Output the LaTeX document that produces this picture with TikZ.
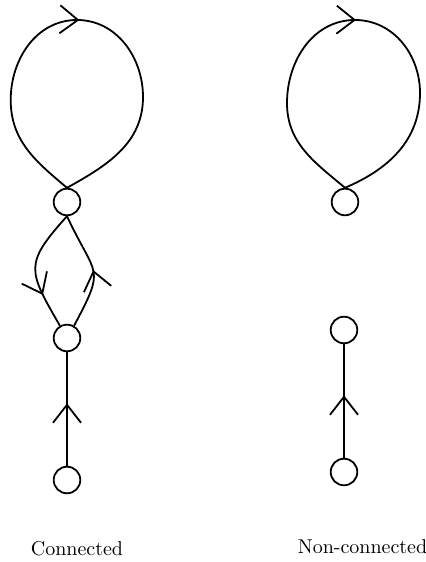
\documentclass[tikz,border=0pt]{standalone}
\usetikzlibrary{arrows.meta,decorations.markings}
\definecolor{ink}{HTML}{000000}
\tikzset{
  vertex/.style={circle,draw=ink,line width=.9pt,minimum size=13.3pt,inner sep=0pt},
  edgeline/.style={draw=ink,line width=.9pt},
  midtip/.style={postaction={decorate},decoration={markings,
    mark=at position #1 with {\arrow[ink,line width=.9pt]{Straight Barb[length=9pt,width=14pt]}}}},
  caption/.style={font=\normalsize,text=ink,anchor=base}
}

\begin{document}
\begin{tikzpicture}[x=.5pt,y=.5pt]
  \useasboundingbox (0,0) rectangle (426,562);
  % Connected graph: three vertices in one column.
  \node[vertex] (ctop) at (67,360) {};
  \node[vertex] (cmid) at (67,224) {};
  \node[vertex] (cbot) at (67,82) {};
  % Self-loop on the top vertex, arrow at its apex.
  \draw[edgeline,midtip=.49] (ctop.north) to[out=140,in=270] (10.7,462)
    to[out=90,in=180] (77,542) to[out=0,in=90] (143,465)
    to[out=270,in=29] (ctop.north);
  % Two opposite edges between the top and middle vertex.
  \draw[edgeline,midtip=.72] (ctop.south) to[out=228,in=120,looseness=1.5] (cmid.120);
  \draw[edgeline,midtip=.5] (cmid.60) to[out=62,in=295,looseness=1.6] (ctop.south);
  \draw[edgeline,midtip=.55] (cbot) -- (cmid);
  \node[caption] (clabel) at (77,6) {Connected};

  % Non-connected graph: loop on top, a separate edge below.
  \node[vertex] (ntop) at (345,360) {};
  \node[vertex] (nmid) at (344,232) {};
  \node[vertex] (nbot) at (344,90) {};
  \draw[edgeline,midtip=.49] (ntop.north) to[out=140,in=270] (287,459)
    to[out=90,in=180] (355,542) to[out=0,in=90] (420,469)
    to[out=270,in=23] (ntop.north);
  \draw[edgeline,midtip=.55] (nbot) -- (nmid);
  \node[caption] (nlabel) at (362.5,9) {Non-connected};
\end{tikzpicture}
\end{document}
